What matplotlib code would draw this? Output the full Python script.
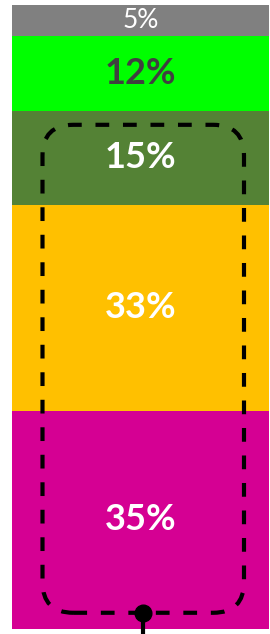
import matplotlib
matplotlib.use("Agg")
import matplotlib.pyplot as plt
from matplotlib.patches import FancyBboxPatch

# stacked shares, bottom to top
shares = [35, 33, 15, 12, 5]
labels = ["35%", "33%", "15%", "12%", "5%"]
colors = ["#D50093", "#FFC000", "#548235", "#00FF00", "#808080"]
text_colors = ["white", "white", "white", "#404040", "white"]
weights = ["bold", "bold", "bold", "bold", "normal"]
sizes = [26, 26, 26, 26, 19]

plt.rcParams['font.family'] = ['Lato', 'DejaVu Sans']

W, H = 270, 634
fig = plt.figure(figsize=(W / 100, H / 100), dpi=100)
ax = fig.add_axes([12 / W, 5 / H, 257 / W, 624 / H])

bottom = 0
for val, lab, col, tc, fw, fs in zip(shares, labels, colors, text_colors, weights, sizes):
    ax.bar(0, val, bottom=bottom, width=1.0, color=col, linewidth=0)
    ax.text(0, bottom + val / 2, lab, ha="center", va="center",
            color=tc, fontsize=fs, fontweight=fw)
    bottom += val

ax.set_xlim(-0.5, 0.5)
ax.set_ylim(0, 100)
ax.axis("off")

# dashed rounded highlight box around the lower three segments
x0, x1 = -0.5 + 30.5 / 257, -0.5 + 232 / 257
y0, y1 = 2.6, 80.8
box = FancyBboxPatch((x0, y0), x1 - x0, y1 - y0,
                     boxstyle="round,pad=0,rounding_size=0.12",
                     mutation_aspect=100 * 257 / 624,
                     fill=False, edgecolor="black", linewidth=3, linestyle=(0, (3.3, 3.3)),
                     clip_on=False)
ax.add_patch(box)

# connector dot and line downward
xc = (x0 + x1) / 2
ax.plot([xc, xc], [y0, -2], color="black", linewidth=3, clip_on=False)
ax.plot(xc, y0, "o", color="black", markersize=12, clip_on=False)

fig.savefig("out.png", dpi=100)
